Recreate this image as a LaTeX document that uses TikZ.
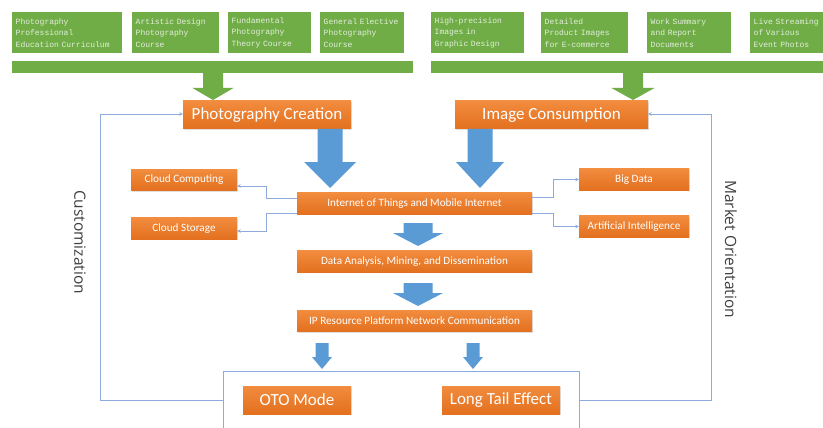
\documentclass[tikz,border=0pt]{standalone}
\usepackage{fontspec}
\setmainfont{Carlito}
\newfontfamily\coursefont{Liberation Mono}
\newfontfamily\sidefont{Open Sans}
\usetikzlibrary{arrows.meta,shadows}
\hyphenpenalty=10000
\definecolor{greenA}{HTML}{70AD47}
\definecolor{courseText}{HTML}{E4EEDC}
\definecolor{orangeTop}{HTML}{F28C3E}
\definecolor{orangeBot}{HTML}{E2701F}
\definecolor{blueA}{HTML}{5B9BD5}
\definecolor{lineA}{HTML}{8FAADC}
\definecolor{sideText}{HTML}{404040}
\newcommand*{\coursebox}[4]{%
  \node [ course, text width = #3pt ] (#1) at (#2,12) {#4};
}
\newcommand*{\fatarrow}[7][blueA]{%
  \fill[#1] ({#2-#6},#3) -- ({#2+#6},#3) -- ({#2+#6},#4) -- ({#2+#7},#4)
    -- (#2,#5) -- ({#2-#7},#4) -- ({#2-#6},#4) -- cycle;
}

\begin{document}
\begin{tikzpicture}[x=1pt,y=-1pt,
    course/.style = {fill=greenA, text=courseText, anchor=north west, align=left,
      font=\coursefont\fontsize{8}{11.5}\selectfont,
      inner xsep=3.5pt, inner ysep=0pt, minimum height=41pt},
    stage/.style  = {top color=orangeTop, bottom color=orangeBot, text=white,
      font=\fontsize{17}{20}\selectfont, minimum height=28pt, inner sep=0pt,
      drop shadow={opacity=0.25, shadow xshift=1pt, shadow yshift=-1.2pt}},
    tech/.style   = {stage, font=\fontsize{11.2}{13}\selectfont, minimum height=21.5pt},
    frame/.style  = {draw=lineA, line width=0.6pt, minimum width=356pt, minimum height=90pt,
      anchor=north, inner sep=0pt},
    link/.style   = {draw=lineA, line width=0.6pt, -{Stealth[length=3.5pt,width=3.5pt]}},
    side/.style   = {font=\sidefont\fontsize{15.5}{18}\selectfont, text=sideText, rotate=-90}
  ]
  \clip (0,0) rectangle (823,428);
  \fill[white] (0,0) rectangle (823,428);

  \coursebox{c1}{12}{103}{Photography\\Professional\\Education Curriculum}
  \coursebox{c2}{132}{80}{Artistic Design\\Photography\\Course}
  \coursebox{c3}{228}{76}{Fundamental\\Photography\\Theory Course}
  \coursebox{c4}{320}{77}{General Elective\\Photography\\Course}
  \coursebox{c5}{431}{86}{High-precision\\Images in\\Graphic Design}
  \coursebox{c6}{541}{80}{Detailed\\Product Images\\for E-commerce}
  \coursebox{c7}{647}{77}{Work Summary\\and Report\\Documents}
  \coursebox{c8}{750}{79}{Live Streaming\\of Various\\Event Photos}

  \fill[greenA] (12,61) rectangle (413,73);
  \fill[greenA] (431,61) rectangle (835,73);
  \fatarrow[greenA]{213}{73}{88}{100}{10}{20.5}
  \fatarrow[greenA]{633}{73}{88}{100}{10}{21.5}

  \node[stage, minimum width=168pt] (pc) at (267,115) {Photography Creation};
  \node[stage, minimum width=193pt] (ic) at (551.5,115) {Image Consumption};

  \fatarrow{330}{129}{162}{188}{12.5}{26}
  \fatarrow{480}{129}{162}{188}{12.5}{24}

  \node[tech, minimum width=235pt] (iot) at (414.5,203.5) {Internet of Things and Mobile Internet};
  \node[tech, minimum width=106pt] (cc) at (184,180) {Cloud Computing};
  \node[tech, minimum width=106pt] (cs) at (184,228.5) {Cloud Storage};
  \node[tech, minimum width=110pt] (bd) at (634,179.5) {Big Data};
  \node[tech, minimum width=110pt] (ai) at (634,226.5) {Artificial Intelligence};

  \draw[link] ([yshift=5.5pt]iot.west) -- ++(-31,0) |- ([yshift=-6pt]cc.east);
  \draw[link] ([yshift=-9.5pt]iot.west) -- ++(-31,0) |- ([yshift=-2.5pt]cs.east);
  \draw[link] ([yshift=6.5pt]iot.east) -- ++(21,0) |- (bd.west);
  \draw[link] ([yshift=-10pt]iot.east) -- ++(21,0) |- (ai.west);

  \fatarrow{418}{223}{233}{246}{14.5}{25}
  \node[tech, minimum width=235pt] (dam) at (414.5,261.5) {Data Analysis, Mining, and Dissemination};
  \fatarrow{418}{283}{293}{306}{14.5}{25}
  \node[tech, minimum width=235pt] (ip) at (414.5,321) {IP Resource Platform Network Communication};

  \fatarrow{322}{343}{357}{369}{6.5}{10}
  \fatarrow{473}{343}{357}{369}{6.5}{10}

  \node[frame] (box) at (401,371) {};
  \node[stage, minimum width=108pt] (oto) at (297,400) {OTO Mode};
  \node[stage, minimum width=118pt] (lte) at (501,400) {Long Tail Effect};

  \draw[link] (oto -| box.west) -- ++(-122,0) |- ([yshift=1pt]pc.west);
  \draw[link] (lte -| box.east) -- ++(132,0) |- ([yshift=1pt]ic.east);

  \node[side] (cust) at (80,242) {Customization};
  \node[side] (mko) at (731,249) {Market Orientation};
\end{tikzpicture}
\end{document}
